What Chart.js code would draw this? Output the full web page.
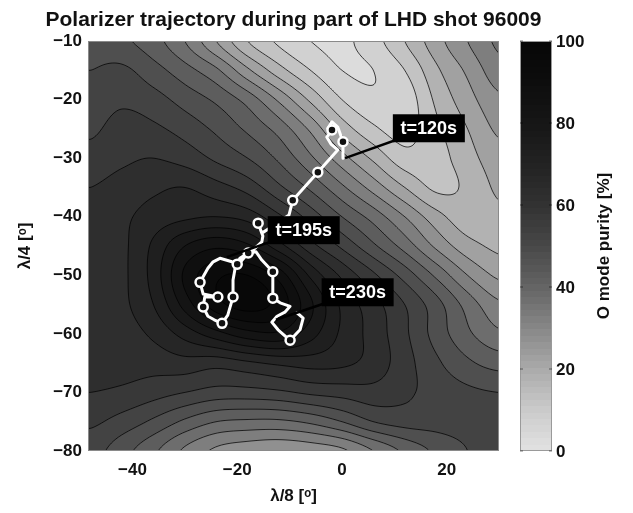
<!DOCTYPE html>
<html>
<head>
<meta charset="utf-8">
<script src="https://cdn.jsdelivr.net/npm/chart.js@4.4.1/dist/chart.umd.min.js"></script>
<style>
  body { margin: 0; background: #fff; }
  canvas { display: block; }
</style>
</head>
<body>
<canvas id="graph" width="633" height="513"></canvas>
<script>
// O mode purity [%], 6 deg (lambda/8) x 5 deg (lambda/4) grid
const gridX = [-48, -42, -36, -30, -24, -18, -12, -6, 0, 6, 12, 18, 24, 30];
const gridY = [-10, -15, -20, -25, -30, -35, -40, -45, -50, -55, -60, -65, -70, -75, -80];
const purity = [
  [48, 46, 42, 35, 25, 15, 9, 5, 4, 8, 15, 23, 30, 36],
  [50, 51, 47, 42, 36, 26, 17, 10, 5, 5, 10, 19, 26, 33],
  [52, 54, 52, 48, 44, 38, 29, 19, 10, 6, 7, 16, 23, 29],
  [54, 57, 56, 53, 49, 44, 38, 29, 18, 11, 8, 14, 20, 26],
  [57, 59, 60, 58, 54, 50, 44, 36, 27, 19, 12, 13, 18, 23],
  [60, 62, 64, 65, 62, 58, 51, 44, 36, 28, 20, 14, 16, 21],
  [62, 64, 67, 69, 70, 68, 61, 53, 45, 38, 30, 22, 17, 19],
  [63, 64, 71, 80, 84, 81, 72, 62, 54, 46, 38, 29, 22, 19],
  [63, 64, 72, 86, 94, 95, 88, 74, 64, 56, 48, 39, 30, 24],
  [63, 64, 70, 82, 93, 97, 93, 81, 69, 62, 55, 47, 38, 31],
  [63, 63, 66, 72, 78, 83, 84, 77, 69, 63, 56, 48, 41, 36],
  [62, 62, 62, 63, 62, 64, 66, 67, 66, 63, 57, 51, 46, 43],
  [60, 59, 57, 55, 53, 53, 54, 56, 57, 58, 56, 53, 51, 50],
  [56, 53, 49, 44, 40, 39, 39, 41, 45, 50, 52, 52, 52, 52],
  [52, 47, 41, 34, 29, 27, 26, 27, 29, 35, 41, 46, 50, 53]
];
const levelStep = 5;
const colorbarTicks = [0, 20, 40, 60, 80, 100];

// polarizer trajectory (lambda/8, lambda/4) from t=120s onwards
const trajX = [0.2, 0.2, -0.8, -1.9, -2.7, -1.9, -2.9, -2.1, -0.8, -4.6, -9.4, -10.1, -13.7, -15.3, -16.0,
  -15.1, -15.3, -17.0, -17.9, -19.5, -20.0, -21.0, -23.3, -24.6, -25.6, -27.1, -26.5, -23.7, -26.2, -26.5,
  -25.6, -24.4, -22.9, -21.8, -20.8, -20.8, -20.4, -17.9, -16.4, -15.3, -13.2, -13.2, -13.2, -11.8, -9.9,
  -10.9, -12.4, -13.4, -12.2, -9.9, -8.0, -7.4, -8.6];
const trajY = [-30.0, -27.2, -24.7, -23.8, -24.9, -25.2, -26.4, -27.6, -28.6, -32.4, -37.2, -39.7, -41.9, -42.8, -41.1,
  -43.3, -44.3, -45.7, -46.2, -47.1, -48.1, -47.7, -47.1, -47.7, -48.8, -51.2, -53.2, -53.7, -53.7, -55.4,
  -57.0, -57.6, -58.2, -56.8, -53.7, -50.8, -48.8, -46.2, -46.0, -47.4, -49.4, -51.7, -53.9, -54.7, -55.3,
  -56.3, -57.0, -58.0, -59.3, -61.1, -59.3, -57.3, -56.4];
const trajMarker = [0, 1, 0, 0, 0, 1, 0, 0, 0, 1, 1, 0, 0, 0, 1,
  0, 0, 0, 1, 0, 1, 0, 0, 0, 0, 1, 0, 1, 0, 1,
  0, 0, 1, 0, 1, 0, 0, 0, 0, 0, 1, 0, 1, 0, 0,
  0, 0, 0, 0, 1, 0, 0, 0];

const noteText = ['t=120s', 't=195s', 't=230s'];
const noteBoxX = [16.6, -7.3, 3.0];
const noteBoxY = [-24.9, -42.3, -52.9];
const noteTipX = [0.6, -22.0, -12.6];
const noteTipY = [-30.0, -46.9, -57.6];

const FONT = "'Liberation Sans', Arial, Helvetica, sans-serif";

// grey colormap
function grayAt(p) {
  const stops = [[0, 226], [10, 203], [20, 170], [30, 135], [40, 100], [50, 72], [60, 50], [70, 34], [80, 22], [90, 13], [100, 6]];
  p = Math.max(0, Math.min(100, p));
  for (let k = 1; k < stops.length; k++) {
    if (p <= stops[k][0]) {
      const t = (p - stops[k - 1][0]) / (stops[k][0] - stops[k - 1][0]);
      return Math.round(stops[k - 1][1] + t * (stops[k][1] - stops[k - 1][1]));
    }
  }
  return stops[stops.length - 1][1];
}

function cr(a, b, c, d, t) {
  return b + 0.5 * t * (c - a + t * (2 * a - 5 * b + 4 * c - d + t * (3 * (b - c) + d - a)));
}

function purityAt(x, y) {
  const nx = gridX.length, ny = gridY.length;
  const fx = (x - gridX[0]) / (gridX[1] - gridX[0]);
  const fy = (gridY[0] - y) / (gridY[0] - gridY[1]);
  const cl = (k, n) => Math.max(0, Math.min(n - 1, k));
  const i = Math.min(nx - 2, cl(Math.floor(fx), nx));
  const j = Math.min(ny - 2, cl(Math.floor(fy), ny));
  const tx = Math.max(0, Math.min(1, fx - i));
  const ty = Math.max(0, Math.min(1, fy - j));
  const rows = [];
  for (let m = -1; m <= 2; m++) {
    const r = purity[cl(j + m, ny)];
    rows.push(cr(r[cl(i - 1, nx)], r[i], r[i + 1], r[cl(i + 2, nx)], tx));
  }
  return Math.max(0, Math.min(100, cr(rows[0], rows[1], rows[2], rows[3], ty)));
}

const contourField = {
  id: 'contourField',
  beforeDatasetsDraw(chart) {
    const {ctx, chartArea: a, scales: {x, y}} = chart;
    const L = Math.round(a.left), T = Math.round(a.top);
    const W = Math.round(a.right) - L, H = Math.round(a.bottom) - T;
    const nBands = 100 / levelStep;
    const img = ctx.createImageData(W, H);
    for (let j = 0; j < H; j++) {
      const yv = y.getValueForPixel(T + j + 0.5);
      for (let i = 0; i < W; i++) {
        const v = purityAt(x.getValueForPixel(L + i + 0.5), yv);
        const band = Math.max(0, Math.min(nBands - 1, Math.floor(v / levelStep)));
        const g = grayAt((band + 0.5) * levelStep);
        const k = (j * W + i) * 4;
        img.data[k] = g; img.data[k + 1] = g; img.data[k + 2] = g; img.data[k + 3] = 255;
      }
    }
    ctx.putImageData(img, L, T);

    // contour lines, marching squares on a 2 px lattice
    const step = 2;
    const cols = Math.ceil(W / step) + 1, rowsN = Math.ceil(H / step) + 1;
    const px = [], py = [], vals = [];
    for (let i = 0; i < cols; i++) px.push(L + Math.min(W, i * step));
    for (let j = 0; j < rowsN; j++) py.push(T + Math.min(H, j * step));
    for (let j = 0; j < rowsN; j++) {
      const yv = y.getValueForPixel(py[j]);
      const row = [];
      for (let i = 0; i < cols; i++) row.push(purityAt(x.getValueForPixel(px[i]), yv));
      vals.push(row);
    }
    ctx.save();
    ctx.beginPath();
    ctx.rect(L, T, W, H);
    ctx.clip();
    ctx.strokeStyle = 'rgba(0,0,0,0.8)';
    ctx.lineWidth = 0.9;
    ctx.beginPath();
    for (let lv = levelStep; lv < 100; lv += levelStep) {
      for (let j = 0; j < rowsN - 1; j++) {
        for (let i = 0; i < cols - 1; i++) {
          const c = [
            [px[i], py[j], vals[j][i]],
            [px[i + 1], py[j], vals[j][i + 1]],
            [px[i + 1], py[j + 1], vals[j + 1][i + 1]],
            [px[i], py[j + 1], vals[j + 1][i]]
          ];
          const pts = [];
          for (let e = 0; e < 4; e++) {
            const p = c[e], q = c[(e + 1) % 4];
            if ((p[2] >= lv) !== (q[2] >= lv)) {
              const t = (lv - p[2]) / (q[2] - p[2]);
              pts.push([p[0] + t * (q[0] - p[0]), p[1] + t * (q[1] - p[1])]);
            }
          }
          for (let s = 0; s + 1 < pts.length; s += 2) {
            ctx.moveTo(pts[s][0], pts[s][1]);
            ctx.lineTo(pts[s + 1][0], pts[s + 1][1]);
          }
        }
      }
    }
    ctx.stroke();
    ctx.restore();

    ctx.save();
    ctx.strokeStyle = '#8a8a8a';
    ctx.lineWidth = 1;
    ctx.strokeRect(L + 0.5, T + 0.5, W - 1, H - 1);
    ctx.restore();
  }
};

const notesAndFrame = {
  id: 'notesAndFrame',
  afterDatasetsDraw(chart) {
    const {ctx, scales: {x, y}} = chart;
    ctx.save();
    ctx.font = 'bold 18px ' + FONT;
    ctx.textAlign = 'center';
    ctx.textBaseline = 'middle';
    noteText.forEach((txt, k) => {
      const bx = x.getPixelForValue(noteBoxX[k]), by = y.getPixelForValue(noteBoxY[k]);
      const tx = x.getPixelForValue(noteTipX[k]), ty = y.getPixelForValue(noteTipY[k]);
      ctx.strokeStyle = '#000';
      ctx.lineWidth = 2.5;
      ctx.beginPath();
      ctx.moveTo(bx, by);
      ctx.lineTo(tx, ty);
      ctx.stroke();
      ctx.fillStyle = '#000';
      ctx.fillRect(bx - 36, by - 14, 72, 28);
      ctx.fillStyle = '#fff';
      ctx.fillText(txt, bx, by + 1);
    });
    ctx.restore();
  },
  afterDraw(chart) {
    const {ctx, chartArea: a} = chart;
    ctx.save();
    ctx.fillStyle = '#111';
    ctx.font = 'bold 21px ' + FONT;
    ctx.textAlign = 'center';
    ctx.textBaseline = 'middle';
    ctx.fillText('Polarizer trajectory during part of LHD shot 96009', (a.left + a.right) / 2, 20);

    // colour bar
    const cx = a.right + 21, cw = 32, top = a.top, h = a.bottom - a.top;
    for (let r = 0; r < h; r++) {
      const v = 100 * (1 - (r + 0.5) / h);
      const g = grayAt(Math.floor(v / 1.5625) * 1.5625 + 0.78);
      ctx.fillStyle = 'rgb(' + g + ',' + g + ',' + g + ')';
      ctx.fillRect(cx, top + r, cw, 1);
    }
    ctx.strokeStyle = '#9a9a9a';
    ctx.lineWidth = 1;
    ctx.strokeRect(cx + 0.5, top + 0.5, cw - 1, h - 1);
    ctx.font = 'bold 17px ' + FONT;
    ctx.textAlign = 'left';
    ctx.textBaseline = 'middle';
    colorbarTicks.forEach(t => {
      const yy = top + h * (1 - t / 100);
      ctx.strokeStyle = 'rgba(0,0,0,0.5)';
      ctx.beginPath();
      ctx.moveTo(cx, yy); ctx.lineTo(cx + 3, yy);
      ctx.moveTo(cx + cw - 3, yy); ctx.lineTo(cx + cw, yy);
      ctx.stroke();
      ctx.fillStyle = '#111';
      ctx.fillText(String(t), cx + cw + 4, yy + 1);
    });
    ctx.translate(cx + cw + 52, top + h / 2);
    ctx.rotate(-Math.PI / 2);
    ctx.textAlign = 'center';
    ctx.fillText('O mode purity [%]', 0, 0);
    ctx.restore();
  }
};

const tickFont = {family: FONT, size: 17, weight: 'bold'};
const minus = v => String(v).replace('-', '\u2212');

new Chart(document.getElementById('graph').getContext('2d'), {
  type: 'scatter',
  data: {
    datasets: [{
      label: 'trajectory',
      data: trajX.map((v, k) => ({x: v, y: trajY[k]})),
      showLine: true,
      borderColor: '#fff',
      borderWidth: 3,
      borderJoinStyle: 'round',
      borderCapStyle: 'round',
      pointRadius: ctx => trajMarker[ctx.dataIndex] ? 4.5 : 0,
      pointBorderWidth: 2.5,
      pointBorderColor: '#fff',
      pointBackgroundColor: '#111',
      tension: 0
    }]
  },
  plugins: [contourField, notesAndFrame],
  options: {
    responsive: false,
    animation: false,
    layout: {padding: {top: 41, right: 134, left: 0, bottom: 0}},
    plugins: {legend: {display: false}, tooltip: {enabled: false}},
    scales: {
      x: {
        type: 'linear',
        min: -48.5,
        max: 30,
        afterFit: s => { s.height = 62; },
        grid: {display: false, drawTicks: false},
        border: {display: false},
        ticks: {stepSize: 20, includeBounds: false, padding: 9, color: '#111', font: tickFont, callback: minus},
        title: {display: true, text: 'λ/8 [ᵒ]', color: '#111', font: tickFont, padding: {top: 0, bottom: 6}}
      },
      y: {
        type: 'linear',
        min: -80,
        max: -10,
        afterFit: s => { s.width = 88; },
        grid: {display: false, drawTicks: false},
        border: {display: false},
        ticks: {stepSize: 10, padding: 6, color: '#111', font: tickFont, callback: minus},
        title: {display: true, text: 'λ/4 [ᵒ]', color: '#111', font: tickFont, padding: {top: 15, bottom: 0}}
      }
    }
  }
});
</script>
</body>
</html>
